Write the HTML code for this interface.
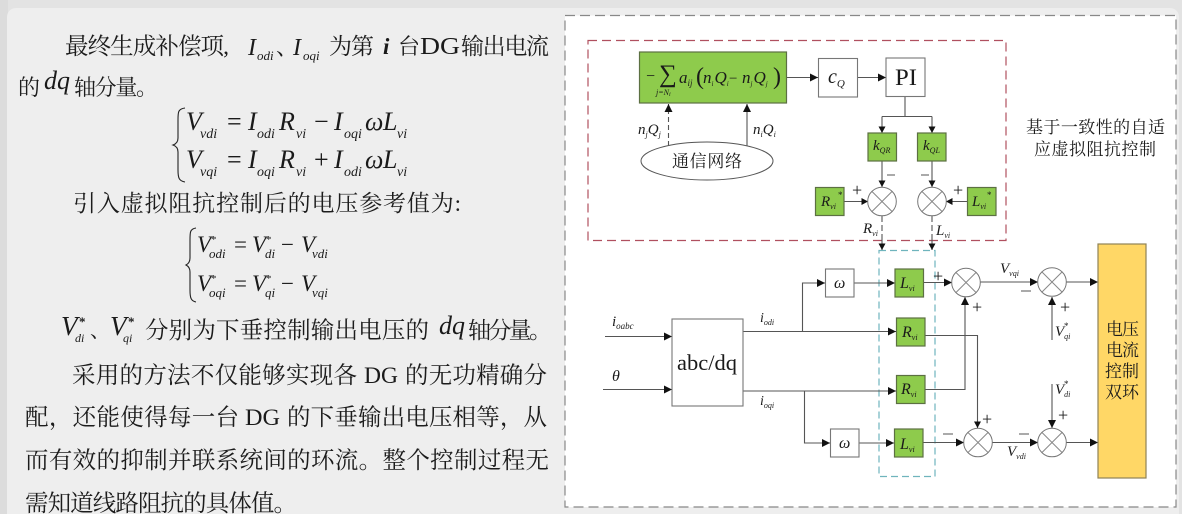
<!DOCTYPE html>
<html><head><meta charset="utf-8"><style>
html,body{margin:0;padding:0;background:#e2e2e2}
svg{display:block;filter:blur(.35px)}
.c{font-family:"Liberation Serif","Noto Serif CJK SC",serif;fill:#1c1c1c}
.f{font-family:"Noto Serif CJK SC",serif;fill:#1c1c1c}
.m{font-family:"Liberation Serif","Noto Serif CJK SC",serif;fill:#1a1a1a;font-style:italic}
.u{font-family:"Liberation Serif",serif;fill:#1a1a1a}
.l{stroke:#555;stroke-width:1.1;fill:none}
.g{fill:#8ecb4c;stroke:#5c7042;stroke-width:1.2}
.w{fill:#fff;stroke:#777;stroke-width:1.1}
</style></head><body>
<svg xmlns="http://www.w3.org/2000/svg" width="1182" height="514" viewBox="0 0 1182 514">
<defs>
<marker id="a" markerUnits="userSpaceOnUse" markerWidth="9" markerHeight="9" refX="8" refY="4" orient="auto"><path d="M0,0L8,4L0,8z" fill="#111"/></marker>
<marker id="b" markerUnits="userSpaceOnUse" markerWidth="7" markerHeight="8" refX="6.5" refY="3.5" orient="auto"><path d="M0,0L6.5,3.5L0,7z" fill="#111"/></marker>
<g id="s"><circle r="14.3" fill="#fff" stroke="#777" stroke-width="1"/><path d="M-10,-10L10,10M-10,10L10,-10" stroke="#888" stroke-width="1"/></g>
</defs>
<rect width="1182" height="514" fill="#e3e3e3"/>
<rect x="0" y="0" width="8" height="514" fill="#dcdcdc"/>
<rect x="7" y="8" width="1172" height="520" rx="9" fill="#eeeeee"/>
<rect x="565" y="15.5" width="611" height="491.5" fill="#fff" stroke="#888" stroke-width="1.2" stroke-dasharray="10 5"/>

<!-- left text -->
<text class="c" x="65" y="54" font-size="23.5" textLength="164" lengthAdjust="spacing">最终生成补偿项,</text>
<text class="m" x="248" y="55" font-size="24">I</text><text class="m" x="257" y="60" font-size="13">odi</text>
<text class="c" x="276" y="55" font-size="22">、</text>
<text class="m" x="293" y="55" font-size="24">I</text><text class="m" x="303" y="60" font-size="13">oqi</text>
<text class="c" x="329" y="54" font-size="23" textLength="45" lengthAdjust="spacing">为第</text>
<text class="m" x="383" y="54" font-size="23" font-weight="bold">i</text>
<text class="c" x="398" y="54" font-size="22">台</text>
<text class="u" x="420" y="54" font-size="24" textLength="40" lengthAdjust="spacingAndGlyphs">DG</text>
<text class="c" x="461" y="54" font-size="23" textLength="88" lengthAdjust="spacing">输出电流</text>
<text class="c" x="18" y="95" font-size="22">的</text>
<text class="m" x="44" y="89" font-size="26">dq</text>
<text class="c" x="74" y="95" font-size="22" textLength="84" lengthAdjust="spacing">轴分量。</text>

<!-- eq 1 -->
<path d="M185,108C178,109 178,112 178,120V138C178,142 176,144 173,145C176,146 178,148 178,152V170C178,178 179,181 185,182" fill="none" stroke="#222" stroke-width="1.1"/>
<g font-size="26">
<text class="m" x="186" y="130">V</text><text class="m" x="200" y="138" font-size="14">vdi</text>
<text class="u" x="227" y="130">=</text>
<text class="m" x="248" y="130">I</text><text class="m" x="257" y="138" font-size="14">odi</text>
<text class="m" x="279" y="130">R</text><text class="m" x="296" y="138" font-size="14">vi</text>
<text class="u" x="314" y="130">−</text>
<text class="m" x="334" y="130">I</text><text class="m" x="344" y="138" font-size="14">oqi</text>
<text class="m" x="365" y="130">ω</text>
<text class="m" x="383" y="130">L</text><text class="m" x="397" y="138" font-size="14">vi</text>
<text class="m" x="186" y="168">V</text><text class="m" x="200" y="176" font-size="14">vqi</text>
<text class="u" x="227" y="168">=</text>
<text class="m" x="248" y="168">I</text><text class="m" x="257" y="176" font-size="14">oqi</text>
<text class="m" x="279" y="168">R</text><text class="m" x="296" y="176" font-size="14">vi</text>
<text class="u" x="314" y="168">+</text>
<text class="m" x="334" y="168">I</text><text class="m" x="344" y="176" font-size="14">odi</text>
<text class="m" x="365" y="168">ω</text>
<text class="m" x="383" y="168">L</text><text class="m" x="397" y="176" font-size="14">vi</text>
</g>
<text class="c" x="73" y="211" font-size="23" textLength="388" lengthAdjust="spacing">引入虚拟阻抗控制后的电压参考值为:</text>

<!-- eq 2 -->
<path d="M196,228C190,229 190,232 190,240V258C190,262 188,264 186,265C188,266 190,268 190,272V290C190,298 191,301 196,302" fill="none" stroke="#222" stroke-width="1.1"/>
<g font-size="23">
<text class="m" x="197" y="252">V</text><text class="u" x="211" y="243" font-size="11">*</text><text class="m" x="209" y="258" font-size="13">odi</text>
<text class="u" x="234" y="252">=</text>
<text class="m" x="252" y="252">V</text><text class="u" x="266" y="243" font-size="11">*</text><text class="m" x="265" y="258" font-size="13">di</text>
<text class="u" x="281" y="252">−</text>
<text class="m" x="301" y="252">V</text><text class="m" x="312" y="258" font-size="13">vdi</text>
<text class="m" x="197" y="291">V</text><text class="u" x="211" y="282" font-size="11">*</text><text class="m" x="209" y="297" font-size="13">oqi</text>
<text class="u" x="234" y="291">=</text>
<text class="m" x="252" y="291">V</text><text class="u" x="266" y="282" font-size="11">*</text><text class="m" x="265" y="297" font-size="13">qi</text>
<text class="u" x="281" y="291">−</text>
<text class="m" x="301" y="291">V</text><text class="m" x="312" y="297" font-size="13">vqi</text>
</g>

<!-- V line -->
<text class="m" x="61" y="335" font-size="27">V</text><text class="u" x="79" y="326" font-size="13" font-weight="bold">*</text><text class="m" x="75" y="342" font-size="12">di</text>
<text class="c" x="90" y="337" font-size="20">、</text>
<text class="m" x="110" y="335" font-size="27">V</text><text class="u" x="128" y="326" font-size="13" font-weight="bold">*</text><text class="m" x="123" y="342" font-size="12">qi</text>
<text class="c" x="145" y="338" font-size="23.5" textLength="284" lengthAdjust="spacing">分别为下垂控制输出电压的</text>
<text class="m" x="439" y="334" font-size="26">dq</text>
<text class="c" x="468" y="338" font-size="23" textLength="84" lengthAdjust="spacing">轴分量。</text>

<text class="c" x="72" y="383" font-size="23.5" textLength="285" lengthAdjust="spacing">采用的方法不仅能够实现各</text>
<text class="u" x="364" y="383" font-size="23.5" textLength="34" lengthAdjust="spacingAndGlyphs">DG</text>
<text class="c" x="405" y="383" font-size="23.5" textLength="142" lengthAdjust="spacing">的无功精确分</text>
<text class="f" x="25" y="425" font-size="23.5" textLength="214" lengthAdjust="spacing">配&#65292;还能使得每一台</text>
<text class="u" x="245" y="425" font-size="23.5" textLength="35" lengthAdjust="spacingAndGlyphs">DG</text>
<text class="f" x="287" y="425" font-size="23.5" textLength="260" lengthAdjust="spacing">的下垂输出电压相等&#65292;从</text>
<text class="c" x="25" y="468" font-size="23.5" textLength="524" lengthAdjust="spacing">而有效的抑制并联系统间的环流。整个控制过程无</text>
<text class="c" x="25" y="511" font-size="23.5" textLength="272" lengthAdjust="spacing">需知道线路阻抗的具体值。</text>

<!-- dashed groups -->
<rect x="588" y="40.5" width="418" height="200" fill="none" stroke="#b0505f" stroke-width="1.2" stroke-dasharray="9 5"/>
<rect x="879" y="250.5" width="56" height="226" fill="none" stroke="#6fb4bd" stroke-width="1.2" stroke-dasharray="7 4"/>

<!-- connectors top -->
<path class="l" marker-end="url(#a)" d="M787,77.5H818"/>
<path class="l" marker-end="url(#a)" d="M857,77.5H886"/>
<path class="l" d="M905,96V116.5M882,116.5H932"/>
<path class="l" marker-end="url(#b)" d="M882,116.5V133"/>
<path class="l" marker-end="url(#b)" d="M932,116.5V133"/>
<path class="l" marker-end="url(#b)" d="M882,161V187"/>
<path class="l" marker-end="url(#b)" d="M932,161V187"/>
<path class="l" marker-end="url(#b)" d="M844,201.5H868"/>
<path class="l" marker-end="url(#b)" d="M967,201.5H946"/>
<path class="l" stroke-dasharray="5 3" marker-end="url(#a)" d="M668.5,146V104"/>
<path class="l" marker-end="url(#a)" d="M747,146V104"/>
<path class="l" stroke-dasharray="6 3" d="M882,216V240"/>
<path class="l" stroke-dasharray="6 3" d="M932,216V240"/>
<path class="l" marker-end="url(#b)" d="M882,240V250"/>
<path class="l" marker-end="url(#b)" d="M932,240V250"/>

<!-- connectors bottom -->
<path class="l" marker-end="url(#a)" d="M605,336.5H672"/>
<path class="l" marker-end="url(#a)" d="M603,389.5H672"/>
<path class="l" marker-end="url(#a)" d="M743,331.5H896"/>
<path class="l" marker-end="url(#a)" d="M802.5,331.5V283H825"/>
<path class="l" marker-end="url(#a)" d="M854,283H895"/>
<path class="l" marker-end="url(#a)" d="M743,391H896"/>
<path class="l" marker-end="url(#a)" d="M804.5,391V443H830"/>
<path class="l" marker-end="url(#a)" d="M859,443H894"/>
<path class="l" marker-end="url(#a)" d="M923,282.5H952"/>
<path class="l" marker-end="url(#a)" d="M925,389.5H965V297"/>
<path class="l" marker-end="url(#b)" d="M925,335.5H977.5V428"/>
<path class="l" marker-end="url(#a)" d="M923,442.5H964"/>
<path class="l" marker-end="url(#a)" d="M980,282H1038"/>
<path class="l" marker-end="url(#a)" d="M992,442.5H1038"/>
<path class="l" marker-end="url(#a)" d="M1066,282H1098"/>
<path class="l" marker-end="url(#a)" d="M1066,442.5H1098"/>
<path class="l" marker-end="url(#a)" d="M1052,340V297"/>
<path class="l" marker-end="url(#a)" d="M1052,384V428"/>

<!-- boxes -->
<rect class="g" x="639.5" y="52" width="147" height="51"/>
<rect class="w" x="818.5" y="58.5" width="39" height="38.5"/>
<rect class="w" x="886" y="58" width="39" height="38.5"/>
<rect class="g" x="868" y="133" width="28.5" height="28"/>
<rect class="g" x="917.5" y="133" width="28.5" height="28"/>
<rect class="g" x="815.5" y="187.5" width="28.5" height="28"/>
<rect class="g" x="967.5" y="187.5" width="28.5" height="28"/>
<ellipse cx="707" cy="161" rx="66" ry="19" fill="#fff" stroke="#555" stroke-width="1"/>
<use href="#s" x="882" y="201.5"/><use href="#s" x="932" y="201.5"/>

<rect class="w" x="672" y="319" width="71" height="87"/>
<rect class="w" x="825.5" y="269" width="28.5" height="28"/>
<rect class="w" x="830.5" y="429" width="28.5" height="28"/>
<rect class="g" x="895" y="269" width="28.5" height="28"/>
<rect class="g" x="896.5" y="318" width="28.5" height="28"/>
<rect class="g" x="896.5" y="375.5" width="28.5" height="28"/>
<rect class="g" x="894.5" y="429" width="28.5" height="28"/>
<use href="#s" x="966" y="282.5"/><use href="#s" x="1052" y="282"/>
<use href="#s" x="978" y="442.5"/><use href="#s" x="1052" y="442.5"/>
<rect x="1098" y="244" width="48" height="234" fill="#ffd766" stroke="#8f8256" stroke-width="1.2"/>

<!-- sum formula -->
<text class="u" x="646" y="81" font-size="16">−</text>
<text class="u" x="659" y="82" font-size="25">∑</text>
<text class="m" x="656" y="95" font-size="8">j=N<tspan font-size="6" dy="1">i</tspan></text>
<text class="m" x="679" y="83" font-size="17">a<tspan font-size="9" dy="3">ij</tspan></text>
<text class="u" x="696" y="84" font-size="24">(</text>
<text class="m" x="703" y="83" font-size="17">n<tspan font-size="7" dy="3">i</tspan><tspan dy="-3" dx="1">Q</tspan><tspan font-size="7" dy="3">i</tspan></text>
<text class="u" x="729" y="83" font-size="15">−</text>
<text class="m" x="742" y="83" font-size="17">n<tspan font-size="7" dy="3">j</tspan><tspan dy="-3" dx="1">Q</tspan><tspan font-size="7" dy="3">j</tspan></text>
<text class="u" x="773" y="84" font-size="24">)</text>

<text class="m" x="828" y="83" font-size="20">c<tspan font-size="11" dy="4">Q</tspan></text>
<text class="u" x="895" y="85" font-size="23" textLength="22" lengthAdjust="spacingAndGlyphs">PI</text>
<text class="m" x="638" y="134" font-size="15">n<tspan font-size="8" dy="3">j</tspan><tspan dy="-3">Q</tspan><tspan font-size="8" dy="3">j</tspan></text>
<text class="m" x="753" y="134" font-size="15">n<tspan font-size="8" dy="3">i</tspan><tspan dy="-3">Q</tspan><tspan font-size="8" dy="3">i</tspan></text>
<text class="c" x="672" y="167" font-size="17" textLength="70" lengthAdjust="spacing" fill="#333">通信网络</text>
<text class="c" x="1026" y="133" font-size="17" textLength="139" lengthAdjust="spacing">基于一致性的自适</text>
<text class="c" x="1034" y="155" font-size="17" textLength="122" lengthAdjust="spacing">应虚拟阻抗控制</text>
<text class="m" x="873" y="150" font-size="15">k<tspan font-size="8" dy="3">QR</tspan></text>
<text class="m" x="923" y="150" font-size="15">k<tspan font-size="8" dy="3">QL</tspan></text>
<text class="m" x="821" y="206" font-size="15">R<tspan font-size="8" dy="3">vi</tspan></text><text class="u" x="838" y="198" font-size="9">*</text>
<text class="m" x="972" y="206" font-size="15">L<tspan font-size="8" dy="3">vi</tspan></text><text class="u" x="987" y="198" font-size="9">*</text>
<text class="u" x="852" y="196" font-size="18">+</text>
<text class="u" x="953" y="196" font-size="18">+</text>
<path class="l" d="M887,175H895M921,175H929"/>
<text class="m" x="863" y="233" font-size="15">R<tspan font-size="8" dy="3">vi</tspan></text>
<text class="m" x="936" y="235" font-size="15">L<tspan font-size="8" dy="3">vi</tspan></text>

<text class="m" x="612" y="326" font-size="15">i<tspan font-size="9" dy="3">oabc</tspan></text>
<text class="m" x="612" y="381" font-size="16">θ</text>
<text class="u" x="677" y="370" font-size="22.5">abc/dq</text>
<text class="m" x="760" y="322" font-size="14">i<tspan font-size="8" dy="3">odi</tspan></text>
<text class="m" x="760" y="405" font-size="14">i<tspan font-size="8" dy="3">oqi</tspan></text>
<text class="m" x="834" y="288" font-size="16">ω</text>
<text class="m" x="839" y="448" font-size="16">ω</text>
<text class="m" x="900" y="288" font-size="16">L<tspan font-size="8" dy="3">vi</tspan></text>
<text class="m" x="902" y="337" font-size="16">R<tspan font-size="8" dy="3">vi</tspan></text>
<text class="m" x="901" y="394" font-size="16">R<tspan font-size="8" dy="3">vi</tspan></text>
<text class="m" x="900" y="449" font-size="16">L<tspan font-size="8" dy="3">vi</tspan></text>

<text class="u" x="933" y="282" font-size="18">+</text>
<text class="u" x="972" y="313" font-size="18">+</text>
<text class="u" x="982" y="425" font-size="18">+</text>
<text class="u" x="1060" y="313" font-size="18">+</text>
<text class="u" x="1058" y="421" font-size="18">+</text>
<path class="l" d="M1021,291H1031M943,434H953M1019,434H1029"/>
<text class="m" x="1000" y="273" font-size="15">V<tspan font-size="8" dy="3">vqi</tspan></text>
<text class="m" x="1007" y="456" font-size="15">V<tspan font-size="8" dy="3">vdi</tspan></text>
<text class="m" x="1055" y="336" font-size="15">V<tspan font-size="8" dy="3">qi</tspan></text><text class="u" x="1064" y="329" font-size="9">*</text>
<text class="m" x="1055" y="394" font-size="15">V<tspan font-size="8" dy="3">di</tspan></text><text class="u" x="1064" y="387" font-size="9">*</text>

<text class="c" x="1106" y="335" font-size="17" textLength="33" lengthAdjust="spacing">电压</text>
<text class="c" x="1106" y="356" font-size="17" textLength="33" lengthAdjust="spacing">电流</text>
<text class="c" x="1105" y="377" font-size="17" textLength="34" lengthAdjust="spacing">控制</text>
<text class="c" x="1105" y="398" font-size="17" textLength="34" lengthAdjust="spacing">双环</text>
</svg>
</body></html>
